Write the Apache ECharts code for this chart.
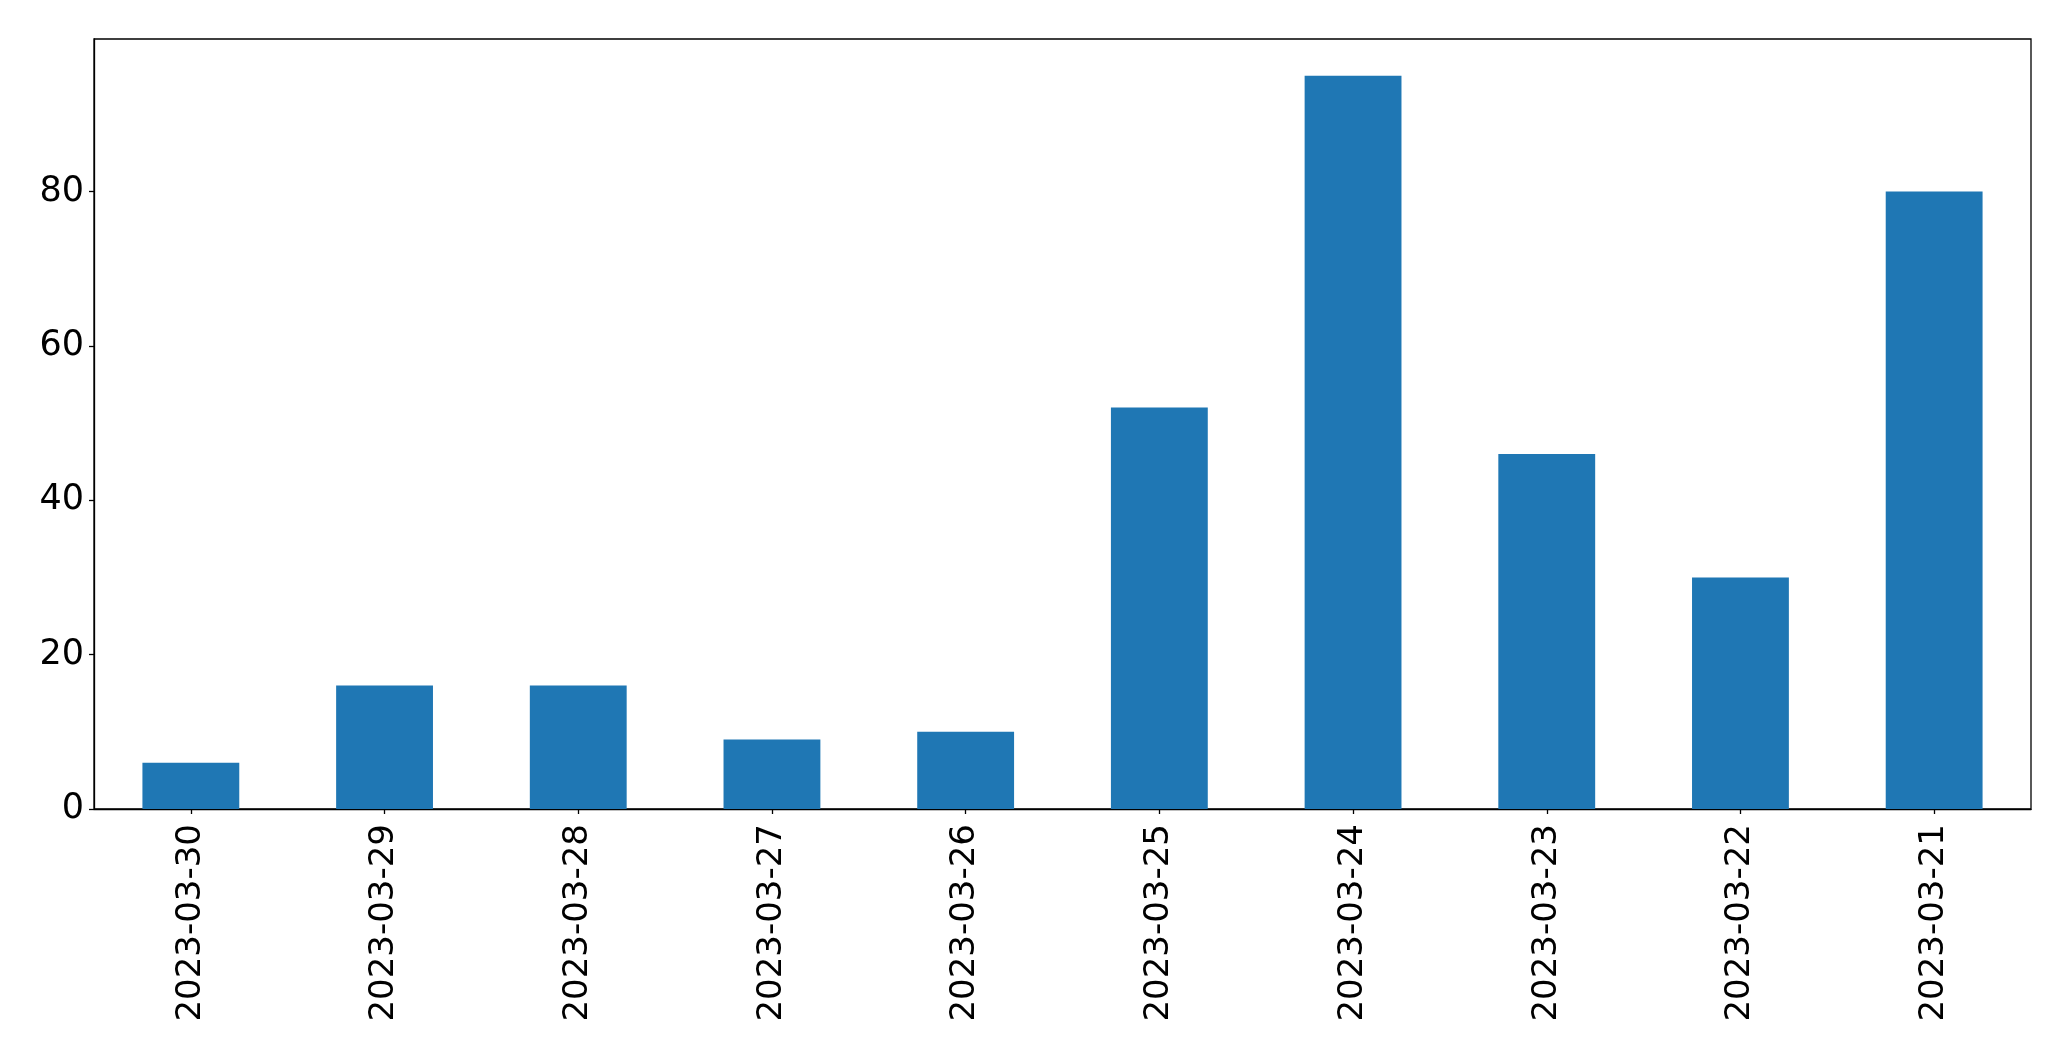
<!DOCTYPE html>
<html>
<head>
<meta charset="utf-8">
<script src="https://cdn.jsdelivr.net/npm/echarts@6/dist/echarts.min.js"></script>
<style>html,body{margin:0;padding:0;background:#fff;}#c{width:2071px;height:1061px;}</style>
</head>
<body>
<div id="c"></div>
<script>
const categories = ['2023-03-30','2023-03-29','2023-03-28','2023-03-27','2023-03-26','2023-03-25','2023-03-24','2023-03-23','2023-03-22','2023-03-21'];
const values = [6, 16, 16, 9, 10, 52, 95, 46, 30, 80];
const yTicks = [0, 20, 40, 60, 80];

const chart = echarts.init(document.getElementById('c'), null, {renderer: 'canvas'});
const font = 'DejaVu Sans';
chart.setOption({
  animation: false,
  grid: {left: 94, right: 40, top: 39, bottom: 252, show: true, borderColor: '#000', borderWidth: 1.3, backgroundColor: 'transparent'},
  xAxis: {
    type: 'category',
    data: categories,
    boundaryGap: true,
    axisLine: {show: true, lineStyle: {color: '#000', width: 1.3}},
    axisTick: {show: true, alignWithLabel: true, length: 5, lineStyle: {color: '#000', width: 1.3}},
    axisLabel: {rotate: 90, color: '#000', fontFamily: font, fontSize: 34, margin: 15, interval: 0},
    splitLine: {show: false}
  },
  yAxis: {
    type: 'value',
    min: 0,
    max: 99.75,
    axisLine: {show: true, lineStyle: {color: '#000', width: 1.3}},
    axisTick: {show: true, length: 5, lineStyle: {color: '#000', width: 1.3}, customValues: yTicks},
    axisLabel: {color: '#000', fontFamily: font, fontSize: 35, margin: 10, customValues: yTicks},
    splitLine: {show: false}
  },
  series: [{
    type: 'bar',
    data: values,
    barWidth: '50%',
    itemStyle: {color: '#1f77b4'}
  }]
});
</script>
</body>
</html>
